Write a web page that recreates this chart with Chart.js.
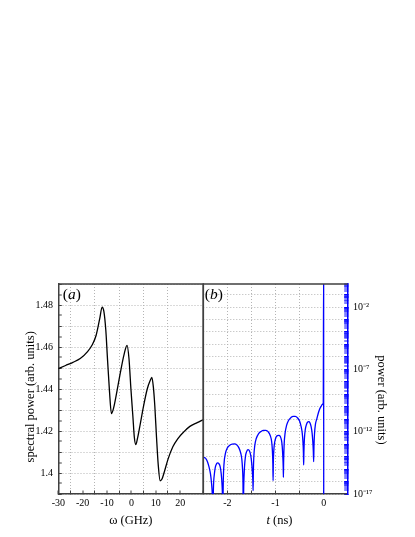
<!DOCTYPE html>
<html><head><meta charset="utf-8">
<script src="https://cdn.jsdelivr.net/npm/chart.js@4.4.1/dist/chart.umd.min.js"></script>
<style>
html,body{margin:0;padding:0;background:#fff;width:415px;height:537px;overflow:hidden;}
canvas{position:absolute;top:0;}
#c1{left:0;} #c2{left:150px;}
</style></head><body>
<canvas id="c1" width="215" height="537"></canvas>
<canvas id="c2" width="265" height="537"></canvas>
<script>
// ---------- panel (a): spectral power vs omega ----------
const omega = [-30,-27,-24,-21,-18,-16,-14.5,-13,-12,-11.3,-10.5,-9.8,-9,-8.2,-7.3,-6,-4.5,-3,-1.8,-1,-0.2,0.6,1.2,1.8,2.5,3.5,5,6.5,7.7,8.4,9,9.6,10.3,11,11.8,12.5,13.5,15,17,19,21.5,24,27,29.5];
const spectralPower = [1.4497,1.4512,1.4527,1.4545,1.4578,1.4612,1.4655,1.4735,1.4790,1.4770,1.4680,1.4540,1.4390,1.4283,1.4310,1.4385,1.4480,1.4565,1.4608,1.4545,1.4400,1.4270,1.4170,1.4135,1.4165,1.4225,1.4320,1.4400,1.4440,1.4455,1.4410,1.4320,1.4170,1.4040,1.3963,1.3970,1.4005,1.4065,1.4125,1.4163,1.4196,1.4222,1.4240,1.4254];
const omegaTickLabels = [-30,-20,-10,0,10,20];
const powerTickLabels = [1.4,1.42,1.44,1.46,1.48];

// ---------- panel (b): temporal power (log10 exponents) vs t ----------
const time = [
-2.5,-2.47,-2.44,-2.41,-2.38,-2.35,-2.33,-2.31,-2.30,
-2.29,-2.27,-2.25,-2.22,-2.20,-2.18,-2.15,-2.13,-2.11,-2.10,-2.095,
-2.085,-2.07,-2.04,-2.0,-1.95,-1.90,-1.85,-1.80,-1.76,-1.72,-1.70,-1.685,-1.675,-1.67,
-1.66,-1.645,-1.625,-1.60,-1.57,-1.54,-1.515,-1.495,-1.48,-1.47,-1.465,
-1.46,-1.45,-1.43,-1.40,-1.35,-1.30,-1.25,-1.20,-1.15,-1.11,-1.08,-1.065,-1.055,-1.05,
-1.045,-1.035,-1.015,-0.99,-0.96,-0.93,-0.90,-0.875,-0.86,-0.848,-0.84,-0.836,
-0.831,-0.82,-0.80,-0.77,-0.73,-0.68,-0.63,-0.59,-0.54,-0.50,-0.47,-0.445,-0.43,-0.42,-0.415,
-0.41,-0.40,-0.38,-0.355,-0.33,-0.31,-0.285,-0.26,-0.24,-0.225,-0.215,-0.207,
-0.20,-0.19,-0.17,-0.14,-0.11,-0.08,-0.05,-0.025,-0.008,0,0.002];
const logPower = [
-14.10,-14.08,-14.2,-14.45,-14.85,-15.4,-16.1,-17.3,-19,
-16.6,-15.4,-14.85,-14.55,-14.5,-14.55,-14.8,-15.3,-16.3,-17.5,-19,
-16.0,-14.6,-13.75,-13.3,-13.08,-12.99,-12.98,-13.08,-13.3,-13.75,-14.2,-15.0,-16.3,-19,
-16.4,-14.9,-14.0,-13.6,-13.44,-13.55,-13.9,-14.5,-15.3,-16.0,-16.73,
-15.2,-14.0,-13.1,-12.55,-12.15,-11.98,-11.9,-11.9,-12.02,-12.3,-12.8,-13.5,-14.6,-15.93,
-14.5,-13.5,-12.8,-12.45,-12.32,-12.3,-12.38,-12.7,-13.2,-14.0,-14.8,-15.67,
-14.4,-13.0,-12.1,-11.5,-11.1,-10.87,-10.77,-10.77,-10.9,-11.15,-11.55,-12.1,-12.8,-13.7,-14.67,
-13.7,-12.6,-11.8,-11.4,-11.22,-11.19,-11.28,-11.6,-12.1,-12.8,-13.5,-14.4,
-13.1,-12.2,-11.4,-10.95,-10.5,-10.15,-9.95,-9.8,-9.72,1,-20];
const timeTickLabels = [-2,-1,0];
const logTickExponents = [-2,-7,-12,-17];

// ---------- styling ----------
const SERIF = '"Liberation Serif", "Times New Roman", serif';
const FRAME = '#404040';
const GRID = '#b4b4b4';
Chart.defaults.font.family = SERIF;
Chart.defaults.color = '#000';

const sup = {'-':'\u207B','0':'\u2070','1':'\u00B9','2':'\u00B2','3':'\u00B3','4':'\u2074','5':'\u2075','6':'\u2076','7':'\u2077','8':'\u2078','9':'\u2079'};
const toSup = s => String(s).split('').map(c => sup[c] || c).join('');
const near = (a, b) => Math.abs(a - b) < 1e-6;

function mixedText(ctx, parts, x, y, size, align) {
  let total = 0;
  parts.forEach(p => { ctx.font = (p.it ? 'italic ' : '') + size + 'px ' + SERIF; total += ctx.measureText(p.t).width; });
  if (align === 'center') x -= total / 2;
  ctx.textAlign = 'left';
  parts.forEach(p => { ctx.font = (p.it ? 'italic ' : '') + size + 'px ' + SERIF; ctx.fillText(p.t, x, y); x += ctx.measureText(p.t).width; });
}

const frameA = {
  id: 'frameA',
  afterDraw(chart) {
    const {ctx, chartArea: a} = chart;
    ctx.save();
    ctx.strokeStyle = FRAME; ctx.lineWidth = 1.5;
    ctx.beginPath(); ctx.moveTo(a.left, a.top); ctx.lineTo(a.right, a.top); ctx.lineTo(a.right, a.bottom); ctx.stroke();
    ctx.fillStyle = '#000'; ctx.textBaseline = 'alphabetic';
    mixedText(ctx, [{t:'('},{t:'a',it:true},{t:')'}], a.left + 4.5, a.top + 15, 15.5, 'left');
    ctx.restore();
  }
};
const frameB = {
  id: 'frameB',
  afterDraw(chart) {
    const {ctx, chartArea: a} = chart;
    ctx.save();
    ctx.strokeStyle = FRAME; ctx.lineWidth = 1.5;
    ctx.beginPath(); ctx.moveTo(a.right, a.top); ctx.lineTo(a.left, a.top); ctx.lineTo(a.left, a.bottom); ctx.stroke();
    ctx.fillStyle = '#000'; ctx.textBaseline = 'alphabetic';
    mixedText(ctx, [{t:'('},{t:'b',it:true},{t:')'}], a.left + 1.5, a.top + 15, 15.5, 'left');
    ctx.textBaseline = 'middle';
    mixedText(ctx, [{t:'t',it:true},{t:' (ns)'}], (a.left + a.right) / 2 + 4, 521, 12.5, 'center');
    ctx.restore();
  }
};

const dotted = { dash: [1, 2], dashOffset: 0 };

// ---------- chart (a) ----------
new Chart(document.getElementById('c1'), {
  type: 'line',
  data: { datasets: [{
    data: omega.map((w, i) => ({x: w, y: spectralPower[i]})),
    borderColor: '#000', borderWidth: 1.3, pointRadius: 0, fill: false,
    cubicInterpolationMode: 'monotone'
  }]},
  options: {
    responsive: false, animation: false, events: [],
    layout: { padding: { left: 0, right: 11.7, top: 284, bottom: 0 } },
    plugins: { legend: {display: false}, tooltip: {enabled: false} },
    scales: {
      x: {
        type: 'linear', position: 'bottom', min: -30, max: 29.5,
        afterFit: s => { s.height = 43; },
        ticks: { stepSize: 5, padding: 7, maxRotation: 0, autoSkip: false, font: {size: 10},
          callback: v => omegaTickLabels.some(l => near(l, v)) ? String(Math.round(v)) : '' },
        grid: { drawTicks: true, tickLength: -3.5, tickColor: FRAME, tickWidth: 1, tickBorderDash: [],
          color: GRID,
          lineWidth: c => (c.tick && Math.abs(c.tick.value % 10) === 5) ? 1 : 0 },
        border: Object.assign({ color: FRAME, width: 1.5 }, dotted),
        title: { display: true, text: '\u03C9 (GHz)', font: {size: 12.5}, padding: {top: 0, bottom: 8.5} }
      },
      y: {
        type: 'linear', position: 'left', min: 1.39, max: 1.49,
        afterFit: s => { s.width = 58.3; },
        ticks: { stepSize: 0.005, padding: 8.8, autoSkip: false, font: {size: 10},
          callback: v => { const l = powerTickLabels.find(p => near(p, v)); return l === undefined ? '' : String(l); } },
        grid: { drawTicks: true, tickLength: -3.5, tickColor: FRAME, tickWidth: 1, tickBorderDash: [],
          color: GRID,
          lineWidth: c => (c.tick && near(c.tick.value * 100, Math.round(c.tick.value * 100))) ? 1 : 0 },
        border: Object.assign({ color: FRAME, width: 1.5 }, dotted),
        title: { display: true, text: 'spectral power (arb. units)     ', font: {size: 12.5}, padding: {top: 23.5, bottom: 0} }
      }
    }
  },
  plugins: [frameA]
});

// ---------- chart (b) ----------
const LOGMIN = 1e-17, LOGMAX = Math.pow(10, -0.15);
new Chart(document.getElementById('c2'), {
  type: 'line',
  data: { datasets: [{
    data: time.map((t, i) => ({x: t, y: Math.pow(10, logPower[i])})),
    borderColor: '#0000ff', borderWidth: 1.3, pointRadius: 0, fill: false,
    cubicInterpolationMode: 'monotone'
  }]},
  options: {
    responsive: false, animation: false, events: [],
    layout: { padding: { left: 53.3, right: 0, top: 284, bottom: 0 } },
    plugins: { legend: {display: false}, tooltip: {enabled: false} },
    scales: {
      x: {
        type: 'linear', position: 'bottom', min: -2.5, max: 0.5,
        afterFit: s => { s.height = 43; },
        ticks: { stepSize: 0.5, padding: 7, maxRotation: 0, autoSkip: false, font: {size: 10},
          callback: v => timeTickLabels.some(l => near(l, v)) ? String(Math.round(v)) : '' },
        grid: { drawTicks: true, tickLength: -3.5, tickColor: FRAME, tickWidth: 1, tickBorderDash: [],
          color: GRID, lineWidth: 1 },
        border: Object.assign({ color: FRAME, width: 1.5 }, dotted),
        title: { display: false }
      },
      y: {
        type: 'logarithmic', position: 'right', min: LOGMIN, max: LOGMAX,
        afterFit: s => { s.width = 67.3; },
        afterBuildTicks: s => {
          const ticks = [];
          for (let n = -17; n <= 0; n++) {
            for (let k = 1; k <= 9; k++) {
              const v = k * Math.pow(10, n);
              if (v >= LOGMIN * (1 - 1e-9) && v <= LOGMAX) ticks.push({value: v, major: k === 1});
            }
          }
          s.ticks = ticks;
        },
        ticks: { padding: 8.8, autoSkip: false, font: {size: 10},
          callback: v => {
            const e = Math.log10(v), r = Math.round(e);
            return (near(e, r) && logTickExponents.includes(r)) ? '10' + toSup(r) : '';
          } },
        grid: { drawTicks: true, tickLength: -3.5, tickColor: '#0000ff', tickWidth: 1, tickBorderDash: [],
          color: GRID,
          lineWidth: c => { if (!c.tick) return 0; const e = Math.log10(c.tick.value); return near(e, Math.round(e)) ? 1 : 0; } },
        border: Object.assign({ color: '#0000ff', width: 1.5 }, dotted),
        title: { display: true, text: '       power (arb. units)', font: {size: 12.5}, padding: {top: 26.5, bottom: 0} }
      }
    }
  },
  plugins: [frameB]
});
</script>
</body></html>
